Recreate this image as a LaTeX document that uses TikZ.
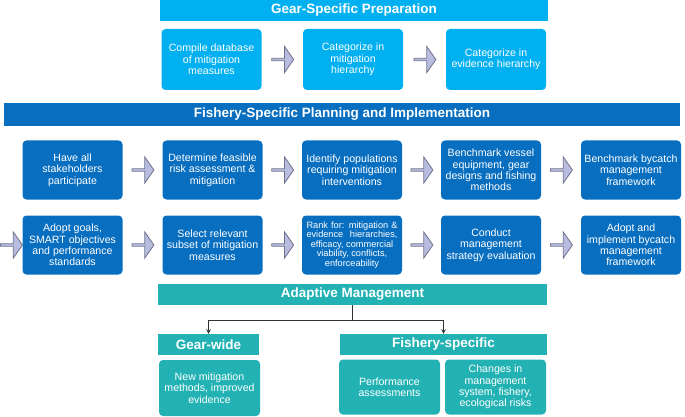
\documentclass[tikz,border=0pt]{standalone}
\usepackage{fontspec}
\setmainfont{Liberation Sans}
\usepackage{xcolor}
\usetikzlibrary{shapes.arrows,calc}
\definecolor{gearblue}{RGB}{0,176,240}
\definecolor{fishblue}{RGB}{8,110,192}
\definecolor{adaptteal}{RGB}{35,178,180}
\definecolor{arrowfill}{RGB}{184,188,222}
\definecolor{arrowline}{RGB}{110,112,140}

\begin{document}
\begin{tikzpicture}[x=1pt,y=-1pt,
		banner/.style={rectangle,text=white,inner sep=0pt,font=\bfseries\fontsize{13.5}{15}\selectfont},
		card/.style={rectangle,rounded corners=4pt,text=white,inner sep=0pt,minimum width=100pt,minimum height=59pt,align=center,font=\fontsize{10.6}{11.4}\selectfont},
		blockarrow/.style={single arrow,draw=arrowline,fill=arrowfill,line width=0.8pt,inner sep=0pt,minimum height=22pt,minimum width=26pt,single arrow head extend=4pt,single arrow tip angle=110}]
		\useasboundingbox (0,0) rectangle (685,417);
		% gear-specific preparation
		\node[banner,fill=gearblue,minimum width=388pt,minimum height=21pt] (gearprep) at (354,10.5) {Gear-Specific Preparation};
		\node[card,fill=gearblue,minimum height=61pt] (compile) at (211.5,59.5) {Compile database\\of mitigation\\measures};
		\node[card,fill=gearblue,minimum height=61pt] (catmit) at (353,59.5) {Categorize in\\mitigation\\hierarchy};
		\node[card,fill=gearblue,minimum height=61pt] (catevi) at (496,59.5) {Categorize in\\evidence hierarchy};
		\node[blockarrow] (ga1) at ($(compile.east)!0.5!(catmit.west)$) {};
		\node[blockarrow] (ga2) at ($(catmit.east)!0.5!(catevi.west)$) {};
		% fishery-specific planning
		\node[banner,fill=fishblue,minimum width=676pt,minimum height=23pt] (fishplan) at (342,114.5) {Fishery-Specific Planning and Implementation};
		\node[card,fill=fishblue] (stake) at (72.5,170) {Have all\\stakeholders\\participate};
		\node[card,fill=fishblue] (risk) at (212.5,170) {Determine feasible\\risk assessment \&\\mitigation};
		\node[card,fill=fishblue] (popul) at (352,170) {Identify populations\\requiring mitigation\\interventions};
		\node[card,fill=fishblue] (vessel) at (491,170) {Benchmark vessel\\equipment, gear\\designs and fishing\\methods};
		\node[card,fill=fishblue] (bench) at (631,170) {Benchmark bycatch\\management\\framework};
		\node[card,fill=fishblue] (goals) at (72.5,245) {Adopt goals,\\SMART objectives\\and performance\\standards};
		\node[card,fill=fishblue] (subset) at (212.5,245) {Select relevant\\subset of mitigation\\measures};
		\node[card,fill=fishblue,font=\fontsize{9.2}{9.5}\selectfont] (rank) at (352,245) {\makebox[91pt][s]{Rank for: mitigation \&}\\\makebox[91pt][s]{evidence hierarchies,}\\efficacy, commercial\\viability, conflicts,\\enforceability};
		\node[card,fill=fishblue] (mse) at (491,245) {Conduct\\management\\strategy evaluation};
		\node[card,fill=fishblue] (adopt) at (631,245) {Adopt and\\implement bycatch\\management\\framework};
		\node[blockarrow] (fa1) at ($(stake.east)!0.5!(risk.west)$) {};
		\node[blockarrow] (fa2) at ($(risk.east)!0.5!(popul.west)$) {};
		\node[blockarrow] (fa3) at ($(popul.east)!0.5!(vessel.west)$) {};
		\node[blockarrow] (fa4) at ($(vessel.east)!0.5!(bench.west)$) {};
		\node[blockarrow] (fa5) at (11,245) {};
		\node[blockarrow] (fa6) at ($(goals.east)!0.5!(subset.west)$) {};
		\node[blockarrow] (fa7) at ($(subset.east)!0.5!(rank.west)$) {};
		\node[blockarrow] (fa8) at ($(rank.east)!0.5!(mse.west)$) {};
		\node[blockarrow] (fa9) at ($(mse.east)!0.5!(adopt.west)$) {};
		% adaptive management
		\node[banner,fill=adaptteal,minimum width=389pt,minimum height=21pt] (adapt) at (352.5,294.5) {Adaptive Management};
		\node[banner,fill=adaptteal,minimum width=101pt,minimum height=21pt] (gearwide) at (208.5,344.5) {Gear-wide};
		\node[banner,fill=adaptteal,minimum width=207pt,minimum height=21pt] (fishspec) at (443.5,344.5) {Fishery-specific};
		\node[card,fill=adaptteal,minimum width=101pt,minimum height=56pt] (newmit) at (209.5,388) {New mitigation\\methods, improved\\evidence};
		\node[card,fill=adaptteal,minimum width=101pt,minimum height=55pt] (perf) at (389.5,387) {Performance\\assessments};
		\node[card,fill=adaptteal,minimum width=101pt,minimum height=55pt] (changes) at (495.5,387) {Changes in\\management\\system, fishery,\\ecological risks};
		\coordinate (split) at ($(adapt.south)+(0,15)$);
		\draw[line width=1pt,black!80] (adapt.south)--(split);
		\draw[-stealth,line width=1pt,black!80] (split)-|(gearwide.north);
		\draw[-stealth,line width=1pt,black!80] (split)-|(fishspec.north);
\end{tikzpicture}
\end{document}
